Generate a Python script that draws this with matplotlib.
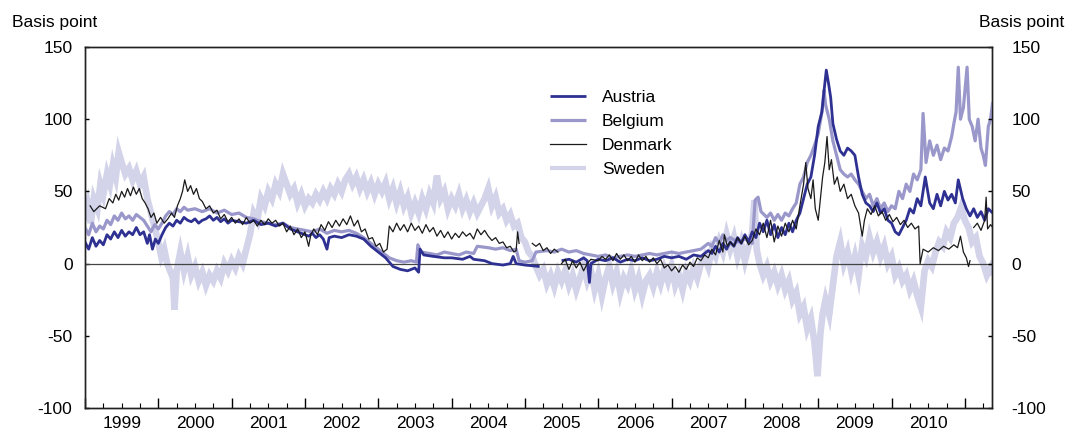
import numpy as np
import matplotlib
matplotlib.use("Agg")
import matplotlib.pyplot as plt
from matplotlib.ticker import FixedLocator, FuncFormatter

plt.rcParams['font.family'] = ['Liberation Sans', 'DejaVu Sans']
plt.rcParams['axes.unicode_minus'] = False

nan = np.nan

# ---------------- data (decimal year, basis points) ----------------
sweden_t = [1999.00, 1999.04, 1999.08, 1999.12, 1999.17, 1999.21, 1999.25, 1999.30, 1999.34, 1999.38,
            1999.42, 1999.46, 1999.50, 1999.55, 1999.60, 1999.65, 1999.70, 1999.75, 1999.80, 1999.85,
            1999.90, 1999.95, 2000.00, 2000.04, 2000.08, 2000.12, 2000.16, 2000.20, 2000.22, 2000.25,
            2000.30, 2000.35, 2000.40, 2000.45, 2000.50, 2000.55, 2000.60, 2000.65, 2000.70, 2000.75,
            2000.80, 2000.85, 2000.90, 2000.95, 2001.00, 2001.05, 2001.10, 2001.15, 2001.20, 2001.25,
            2001.30, 2001.35, 2001.40, 2001.45, 2001.50, 2001.55, 2001.60, 2001.65, 2001.70, 2001.75,
            2001.80, 2001.85, 2001.90, 2001.95, 2002.00, 2002.05, 2002.10, 2002.15, 2002.20, 2002.25,
            2002.30, 2002.35, 2002.40, 2002.45, 2002.50, 2002.55, 2002.60, 2002.65, 2002.70, 2002.75,
            2002.80, 2002.85, 2002.90, 2002.95, 2003.00, 2003.05, 2003.10, 2003.15, 2003.20, 2003.25,
            2003.30, 2003.35, 2003.40, 2003.45, 2003.50, 2003.55, 2003.60, 2003.65, 2003.70, 2003.75,
            2003.80, 2003.85, 2003.90, 2003.95, 2004.00, 2004.05, 2004.10, 2004.15, 2004.20, 2004.25,
            2004.30, 2004.35, 2004.40, 2004.45, 2004.50, 2004.55, 2004.60, 2004.65, 2004.70, 2004.75,
            2004.80, 2004.85, 2004.90, 2004.95, 2005.00, 2005.05, 2005.10, 2005.15, 2005.20, 2005.25,
            2005.30, 2005.35, 2005.40, 2005.45, 2005.50, 2005.55, 2005.60, 2005.65, 2005.70, 2005.75,
            2005.80, 2005.85, 2005.90, 2005.95, 2006.00, 2006.05, 2006.10, 2006.15, 2006.20, 2006.25,
            2006.30, 2006.35, 2006.40, 2006.45, 2006.50, 2006.55, 2006.60, 2006.65, 2006.70, 2006.75,
            2006.80, 2006.85, 2006.90, 2006.95, 2007.00, 2007.05, 2007.10, 2007.15, 2007.20, 2007.25,
            2007.30, 2007.35, 2007.40, 2007.45, 2007.50, 2007.55, 2007.60, 2007.65, 2007.70, 2007.75,
            2007.80, 2007.85, 2007.90, 2007.95, 2008.00, 2008.05, 2008.10, 2008.13, 2008.16, 2008.20,
            2008.25, 2008.30, 2008.35, 2008.40, 2008.45, 2008.50, 2008.55, 2008.60, 2008.65, 2008.70,
            2008.75, 2008.80, 2008.85, 2008.90, 2008.95, 2008.99, 2009.03, 2009.06, 2009.10, 2009.15,
            2009.20, 2009.25, 2009.30, 2009.35, 2009.40, 2009.45, 2009.50, 2009.55, 2009.60, 2009.65,
            2009.70, 2009.75, 2009.80, 2009.85, 2009.90, 2009.95, 2010.00, 2010.05, 2010.10, 2010.15,
            2010.20, 2010.25, 2010.30, 2010.35, 2010.40, 2010.45, 2010.50, 2010.55, 2010.60, 2010.65,
            2010.70, 2010.75, 2010.80, 2010.85, 2010.90, 2010.95, 2011.00, 2011.05, 2011.10, 2011.15,
            2011.20, 2011.25, 2011.30, 2011.35, 2011.38]
sweden_v = [30, 40, 28, 45, 38, 55, 48, 62, 55, 68,
            60, 77, 70, 62, 66, 58, 64, 55, 60, 45,
            35, 25, 15, 5, 10, 0, -5, -10, -32, -5,
            8, -5, 5, -8, -2, -12, -6, -15, -8, -12,
            -5, -10, 0, -5, 2, -3, 5, 0, 10, 20,
            35, 30, 45, 40, 50, 45, 55, 50, 62, 55,
            48, 52, 42, 48, 40, 45, 42, 48, 44, 50,
            45, 52, 48, 55, 50, 58, 62, 55, 60, 52,
            58, 50, 56, 48, 55, 50, 56, 45, 52, 42,
            50, 40, 46, 35, 42, 35, 45, 38, 48, 42,
            61, 45, 50, 38, 45, 40, 48, 38, 44, 36,
            42, 35, 40, 45, 52, 40, 46, 35, 38, 30,
            34, 26, 28, 18, 15, 8, 5, -2, -8, -4,
            -14, -8, -16, -6, -12, -5, -15, -8, -18, -10,
            -2, -12, -5, -18, -8, -22, -10, -2, -14, -6,
            -20, -10, -15, -5, -18, -10, -22, -12, -8, -16,
            -6, -14, -4, -12, -2, -15, -8, -18, -6, -12,
            -3, -10, 0, 5, -2, 10, 5, 15, 8, 20,
            10, 18, 5, 14, 2, 12, 22, 44, 10, 0,
            -8, -2, -12, -6, -15, -8, -18, -12, -25, -20,
            -35, -30, -45, -38, -55, -78, -48, -35, -25, -35,
            -15, 5, 15, 0, 8, -5, 5, -8, 12, 5,
            18, 8, 15, 5, 12, 0, 5, -8, -3, -12,
            -8, -18, -12, -22, -30, -5, 2, -2, 8, 15,
            12, 22, 18, 28, 32, 39, 30, 25, 15, 18,
            5, 0, -8, -3, -8]

belgium_t = [1999.00, 1999.05, 1999.10, 1999.15, 1999.20, 1999.25, 1999.30, 1999.35, 1999.40, 1999.45,
             1999.50, 1999.55, 1999.60, 1999.65, 1999.70, 1999.75, 1999.80, 1999.85, 1999.90, 1999.95,
             2000.00, 2000.05, 2000.10, 2000.15, 2000.20, 2000.25, 2000.30, 2000.35, 2000.40, 2000.50,
             2000.60, 2000.70, 2000.80, 2000.90, 2001.00, 2001.10, 2001.20, 2001.30, 2001.40, 2001.50,
             2001.60, 2001.70, 2001.80, 2001.90, 2002.00, 2002.10, 2002.20, 2002.30, 2002.40, 2002.50,
             2002.60, 2002.70, 2002.80, 2002.90, 2003.00, 2003.10, 2003.15, 2003.25, 2003.35, 2003.45,
             2003.52, 2003.54, 2003.58, 2003.70, 2003.80, 2003.90, 2004.00, 2004.10, 2004.20, 2004.30,
             2004.35, 2004.50, 2004.60, 2004.70, 2004.80, 2004.88, 2004.92, 2005.00, 2005.10, 2005.15,
             2005.30, 2005.40, 2005.50, 2005.60, 2005.70, 2005.80, 2005.90, 2006.00, 2006.10, 2006.20,
             2006.30, 2006.40, 2006.50, 2006.60, 2006.70, 2006.80, 2006.90, 2007.00, 2007.10, 2007.20,
             2007.30, 2007.40, 2007.50, 2007.55, 2007.60, 2007.65, 2007.70, 2007.75, 2007.80, 2007.90,
             2008.00, 2008.10, 2008.14, 2008.18, 2008.22, 2008.30, 2008.35, 2008.40, 2008.45, 2008.50,
             2008.55, 2008.60, 2008.65, 2008.70, 2008.75, 2008.80, 2008.85, 2008.90, 2008.95, 2009.00,
             2009.05, 2009.08, 2009.10, 2009.15, 2009.20, 2009.25, 2009.30, 2009.35, 2009.40, 2009.45,
             2009.50, 2009.55, 2009.60, 2009.65, 2009.70, 2009.75, 2009.80, 2009.85, 2009.90, 2009.95,
             2010.00, 2010.05, 2010.10, 2010.15, 2010.20, 2010.25, 2010.30, 2010.35, 2010.40, 2010.43,
             2010.47, 2010.52, 2010.57, 2010.62, 2010.67, 2010.72, 2010.77, 2010.82, 2010.85, 2010.88,
             2010.91, 2010.94, 2010.98, 2011.03, 2011.06, 2011.10, 2011.14, 2011.18, 2011.22, 2011.25,
             2011.28, 2011.32, 2011.35, 2011.38]
belgium_v = [25, 20, 28, 22, 26, 24, 30, 27, 33, 30,
             35, 31, 33, 30, 34, 32, 30, 26, 22, 27,
             24, 28, 33, 36, 34, 38, 36, 39, 37, 38,
             36, 38, 35, 37, 34, 35, 32, 31, 29, 28,
             27, 28, 25, 24, 23, 22, 24, 21, 23, 22,
             23, 21, 18, 14, 10, 6, 4, 2, 1, 2,
             1, 13, 8, 7, 6, 8, 7, 6, 8, 7,
             12, 11, 10, 11, 9, 10, 2, 1, 2, 8,
             9, 8, 10, 8, 9, 7, 6, 5, 6, 4,
             5, 6, 5, 6, 7, 6, 7, 8, 7, 8,
             9, 10, 14, 12, 18, 14, 20, 16, 18, 15,
             17, 14, 44, 46, 36, 32, 35, 30, 34, 30,
             35, 33, 38, 42, 55, 60, 70, 75, 82, 90,
             105, 120, 110, 100, 85, 75, 65, 62, 60, 62,
             58, 55, 50, 45, 48, 40, 45, 38, 42, 36,
             40, 38, 50, 45, 55, 50, 62, 58, 65, 104,
             70, 85, 75, 82, 72, 80, 78, 88, 97, 105,
             136, 100, 108, 136, 100, 95, 85, 100, 80, 75,
             68, 95, 100, 112]

austria_t = [1999.00, 1999.05, 1999.10, 1999.15, 1999.20, 1999.25, 1999.30, 1999.35, 1999.40, 1999.45,
             1999.50, 1999.55, 1999.60, 1999.65, 1999.70, 1999.75, 1999.80, 1999.85, 1999.88, 1999.92,
             1999.96, 2000.00, 2000.05, 2000.10, 2000.15, 2000.20, 2000.25, 2000.30, 2000.35, 2000.40,
             2000.45, 2000.50, 2000.55, 2000.60, 2000.65, 2000.70, 2000.75, 2000.80, 2000.85, 2000.90,
             2000.95, 2001.00, 2001.10, 2001.20, 2001.30, 2001.40, 2001.50, 2001.60, 2001.70, 2001.80,
             2001.90, 2002.00, 2002.05, 2002.10, 2002.15, 2002.20, 2002.25, 2002.30, 2002.33, 2002.40,
             2002.50, 2002.60, 2002.70, 2002.80, 2002.90, 2003.00, 2003.10, 2003.15, 2003.20, 2003.30,
             2003.40, 2003.50, 2003.55, 2003.57, 2003.62, 2003.75, 2003.90, 2004.00, 2004.15, 2004.25,
             2004.30, 2004.45, 2004.55, 2004.70, 2004.80, 2004.84, 2004.88, 2005.00, 2005.20, 2005.35,
             2005.50, 2005.60, 2005.70, 2005.80, 2005.85, 2005.88, 2005.90, 2006.00, 2006.10, 2006.20,
             2006.30, 2006.40, 2006.50, 2006.60, 2006.70, 2006.80, 2006.90, 2007.00, 2007.10, 2007.20,
             2007.30, 2007.40, 2007.50, 2007.55, 2007.60, 2007.65, 2007.70, 2007.75, 2007.80, 2007.85,
             2007.90, 2007.95, 2008.00, 2008.05, 2008.10, 2008.15, 2008.20, 2008.25, 2008.30, 2008.35,
             2008.40, 2008.45, 2008.50, 2008.55, 2008.60, 2008.65, 2008.70, 2008.75, 2008.80, 2008.85,
             2008.90, 2008.95, 2009.00, 2009.05, 2009.08, 2009.11, 2009.14, 2009.17, 2009.20, 2009.25,
             2009.30, 2009.35, 2009.40, 2009.45, 2009.50, 2009.55, 2009.60, 2009.65, 2009.70, 2009.75,
             2009.80, 2009.85, 2009.90, 2009.95, 2010.00, 2010.05, 2010.10, 2010.15, 2010.20, 2010.25,
             2010.30, 2010.35, 2010.40, 2010.46, 2010.52, 2010.57, 2010.62, 2010.67, 2010.72, 2010.77,
             2010.82, 2010.87, 2010.91, 2010.97, 2011.02, 2011.07, 2011.12, 2011.17, 2011.22, 2011.27,
             2011.32, 2011.38]
austria_v = [15, 10, 18, 12, 16, 13, 20, 17, 22, 18,
             23, 19, 22, 20, 25, 20, 22, 14, 20, 10,
             17, 14, 20, 25, 28, 26, 30, 28, 32, 30,
             29, 31, 28, 30, 31, 33, 30, 32, 29, 31,
             28, 30, 29, 28, 30, 27, 28, 26, 28, 24,
             22, 20, 19, 21, 18, 20, 17, 10, 18, 19,
             18, 20, 19, 17, 12, 8, 4, 1, -2, -4,
             -5, -3, -6, 10, 6, 5, 4, 4, 3, 5,
             3, 2, 0, -1, 0, 5, 0, -1, -2, nan,
             2, 3, 1, 4, 2, -13, 0, 3, 2, 4,
             1, 3, 2, 4, 2, 3, 5, 4, 5, 3,
             6, 5, 9, 7, 12, 8, 14, 10, 15, 12,
             18, 14, 20, 15, 22, 18, 28, 22, 30, 20,
             27, 18, 25, 20, 28, 22, 30, 35, 45, 55,
             60, 75, 95, 105, 120, 134, 125, 115, 97, 86,
             78, 75, 80, 78, 75, 60, 48, 42, 40, 36,
             42, 35, 38, 30, 28, 22, 20, 25, 30, 38,
             35, 45, 40, 60, 42, 38, 48, 40, 50, 44,
             48, 42, 58, 45, 38, 33, 38, 32, 36, 30,
             38, 35]

denmark_t = [1999.07, 1999.12, 1999.20, 1999.28, 1999.33, 1999.38, 1999.42, 1999.46, 1999.50, 1999.54,
             1999.58, 1999.62, 1999.66, 1999.70, 1999.74, 1999.78, 1999.82, 1999.86, 1999.90, 1999.94,
             1999.98, 2000.03, 2000.08, 2000.13, 2000.18, 2000.22, 2000.26, 2000.30, 2000.33, 2000.36,
             2000.40, 2000.44, 2000.48, 2000.52, 2000.56, 2000.60, 2000.65, 2000.70, 2000.75, 2000.80,
             2000.85, 2000.90, 2000.95, 2001.00, 2001.05, 2001.10, 2001.15, 2001.20, 2001.25, 2001.30,
             2001.35, 2001.40, 2001.45, 2001.50, 2001.55, 2001.60, 2001.65, 2001.70, 2001.75, 2001.80,
             2001.85, 2001.90, 2001.95, 2002.00, 2002.05, 2002.08, 2002.12, 2002.17, 2002.22, 2002.27,
             2002.32, 2002.37, 2002.42, 2002.47, 2002.52, 2002.57, 2002.62, 2002.67, 2002.72, 2002.77,
             2002.82, 2002.87, 2002.92, 2002.97, 2003.02, 2003.07, 2003.12, 2003.15, 2003.20, 2003.25,
             2003.30, 2003.35, 2003.40, 2003.45, 2003.50, 2003.55, 2003.60, 2003.65, 2003.70, 2003.75,
             2003.80, 2003.85, 2003.90, 2003.95, 2004.00, 2004.05, 2004.10, 2004.15, 2004.20, 2004.25,
             2004.30, 2004.35, 2004.40, 2004.45, 2004.50, 2004.55, 2004.60, 2004.65, 2004.70, 2004.75,
             2004.80, 2004.85, 2004.88, 2004.90, 2004.92, 2005.00, 2005.10, 2005.15, 2005.20, 2005.25,
             2005.30, 2005.35, 2005.40, 2005.45, 2005.47, 2005.50, 2005.55, 2005.60, 2005.65, 2005.70,
             2005.75, 2005.80, 2005.85, 2005.90, 2006.00, 2006.05, 2006.10, 2006.15, 2006.20, 2006.25,
             2006.30, 2006.35, 2006.40, 2006.45, 2006.50, 2006.55, 2006.60, 2006.65, 2006.70, 2006.75,
             2006.80, 2006.85, 2006.90, 2006.95, 2007.00, 2007.05, 2007.10, 2007.15, 2007.20, 2007.25,
             2007.30, 2007.35, 2007.40, 2007.45, 2007.50, 2007.55, 2007.60, 2007.65, 2007.70, 2007.72,
             2007.76, 2007.80, 2007.85, 2007.90, 2007.95, 2008.00, 2008.05, 2008.10, 2008.15, 2008.20,
             2008.25, 2008.30, 2008.35, 2008.40, 2008.45, 2008.50, 2008.55, 2008.60, 2008.65, 2008.70,
             2008.75, 2008.80, 2008.83, 2008.86, 2008.90, 2008.93, 2008.96, 2009.00, 2009.03, 2009.06,
             2009.09, 2009.12, 2009.15, 2009.18, 2009.22, 2009.26, 2009.30, 2009.35, 2009.40, 2009.45,
             2009.50, 2009.55, 2009.60, 2009.63, 2009.67, 2009.72, 2009.77, 2009.82, 2009.87, 2009.92,
             2009.97, 2010.02, 2010.07, 2010.12, 2010.17, 2010.22, 2010.27, 2010.32, 2010.37, 2010.39,
             2010.43, 2010.50, 2010.57, 2010.64, 2010.71, 2010.78, 2010.85, 2010.90, 2010.94, 2010.98,
             2011.02, 2011.05, 2011.07, 2011.10, 2011.12, 2011.17, 2011.22, 2011.27, 2011.29, 2011.31,
             2011.35, 2011.38]
denmark_v = [40, 36, 40, 38, 45, 42, 48, 44, 50, 46,
             52, 47, 53, 48, 52, 45, 42, 38, 32, 35,
             28, 32, 28, 31, 35, 32, 40, 45, 50, 58,
             50, 54, 48, 52, 45, 43, 38, 40, 35, 37,
             31, 34, 29, 32, 28, 31, 27, 32, 28, 30,
             26, 30, 27, 31, 28, 30, 26, 28, 22, 26,
             20, 24, 18, 22, 12, 20, 24, 20, 27, 23,
             29, 25, 30, 26, 31, 27, 33, 26, 30, 22,
             24, 17, 18, 12, 14, 8, 10, 26, 22, 28,
             23, 27, 22, 28, 23, 26, 21, 27, 22, 25,
             19, 23, 18, 22, 17, 21, 18, 22, 19, 21,
             17, 24, 20, 23, 19, 16, 18, 14, 15, 11,
             12, 8, 9, 22, 14, nan, 14, 12, 14, 9,
             11, 7, 10, 8, nan, 0, 3, -4, 2, -3,
             1, -5, 0, 3, 2, 5, 3, 6, 2, 7,
             3, 6, 2, 5, 1, 6, 2, 5, 1, 4,
             0, 3, -3, -1, -5, -2, -6, -1, -4, 1,
             -2, 4, 2, 6, 4, 10, 6, 16, 8, 20,
             12, 15, 12, 18, 14, 19, 13, 16, 24, 20,
             28, 18, 30, 15, 26, 19, 28, 22, 30, 24,
             40, 55, 70, 52, 45, 58, 38, 30, 45, 60,
             70, 88, 65, 72, 55, 60, 50, 55, 45, 48,
             40, 35, 19, 30, 38, 34, 40, 33, 36, 30,
             34, 29, 32, 27, 30, 25, 28, 24, 26, 0,
             10, 8, 11, 9, 12, 10, 13, 11, 19, 8,
             4, -2, 2, nan, 25, 28, 23, 30, 46, 24,
             27, 25]

series_names = ['Austria', 'Belgium', 'Denmark', 'Sweden']
y_ticks = [-100, -50, 0, 50, 100, 150]
years = list(range(1999, 2012))
year_labels = [str(y) for y in range(1999, 2011)]

# ---------------- styling ----------------
c_austria = '#2E3192'
c_belgium = '#9A98CB'
c_denmark = '#1A1A1A'
c_sweden = '#D3D3EA'
fs = 12.5

fig = plt.figure(figsize=(10.69, 4.32), dpi=100)
ax = fig.add_axes([85/1069, 1-408/432, (992-85)/1069, (408-47)/432])

ax.plot(sweden_t, sweden_v, color=c_sweden, lw=4.8, zorder=1, label='Sweden',
        solid_capstyle='butt', solid_joinstyle='miter')
ax.axhline(0, color='#444444', lw=0.9, zorder=2)
ax.plot(belgium_t, belgium_v, color=c_belgium, lw=2.3, zorder=3, label='Belgium',
        solid_capstyle='butt')
ax.plot(austria_t, austria_v, color=c_austria, lw=2.0, zorder=4, label='Austria',
        solid_capstyle='butt')
ax.plot(denmark_t, denmark_v, color=c_denmark, lw=0.9, zorder=5, label='Denmark')

ax.set_xlim(1999.0, 2011.37)
ax.set_ylim(-100, 150)
ax.set_yticks(y_ticks)
ax.set_yticklabels([str(v) for v in y_ticks])

ax.xaxis.set_major_locator(FixedLocator(years))
ax.xaxis.set_major_formatter(FuncFormatter(lambda x, p: ''))
minor = [y + q for y in years for q in (0.25, 0.5, 0.75)]
ax.xaxis.set_minor_locator(FixedLocator(minor))
lab_map = {y + 0.5: s for y, s in zip(range(1999, 2011), year_labels)}
ax.xaxis.set_minor_formatter(FuncFormatter(lambda x, p: lab_map.get(round(x, 2), '')))

ax.tick_params(axis='x', which='major', direction='in', length=7, width=1, top=False)
ax.tick_params(axis='x', which='minor', direction='in', length=3.8, width=0.8, pad=6, labelsize=fs)
ax.tick_params(axis='y', direction='in', length=3, width=1, labelsize=fs, pad=9)

for s in ax.spines.values():
    s.set_linewidth(1.0)
    s.set_color('#222222')

ax2 = ax.twinx()
ax2.set_ylim(-100, 150)
ax2.set_yticks(y_ticks)
ax2.set_yticklabels([str(v) for v in y_ticks])
ax2.tick_params(axis='y', direction='in', length=3, width=1, labelsize=fs, pad=14)
for s in ax2.spines.values():
    s.set_linewidth(1.0)
    s.set_color('#222222')

fig.text(12/1069, 1-22/432, 'Basis point', fontsize=fs, ha='left', va='center')
fig.text(1064/1069, 1-22/432, 'Basis point', fontsize=fs, ha='right', va='center')

handles, labels = ax.get_legend_handles_labels()
order = [labels.index(n) for n in series_names]
leg = ax.legend([handles[i] for i in order], [labels[i] for i in order],
                loc='upper left', bbox_to_anchor=(550/1069, 1-90/432), bbox_transform=fig.transFigure,
                frameon=False, fontsize=fs, handlelength=2.1, handletextpad=0.9,
                labelspacing=0.5, borderpad=0, borderaxespad=0)
leg.get_lines()[3].set_linewidth(3.0)

fig.savefig('out.png', dpi=100)
